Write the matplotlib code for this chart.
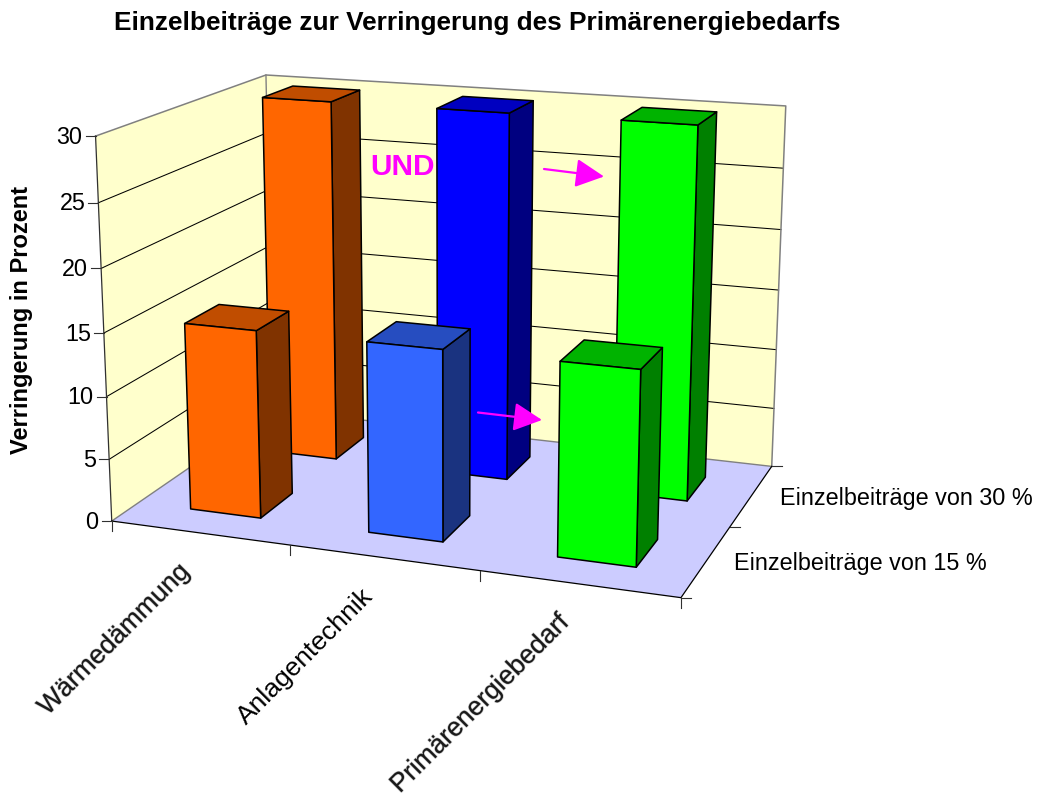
#!/usr/bin/env python3
import matplotlib
matplotlib.use('Agg')
import matplotlib.pyplot as plt
import matplotlib.patheffects as pe
from matplotlib.lines import Line2D
from matplotlib.patches import FancyArrowPatch
from mpl_toolkits.mplot3d import proj3d
from mpl_toolkits.mplot3d.art3d import Poly3DCollection

plt.rcParams['font.family'] = ['Liberation Sans', 'DejaVu Sans']

# data
categories = ['Wärmedämmung', 'Anlagentechnik', 'Primärenergiebedarf']
series_labels = ['Einzelbeiträge von 15 %', 'Einzelbeiträge von 30 %']
values_15 = [15, 15, 15]
values_30 = [30, 30, 30]
z_ticks = [0, 5, 10, 15, 20, 25, 30]

# (front, side, top) per category
colors_15 = [('#FF6600', '#803300', '#C04D00'),
             ('#3366FF', '#1A3380', '#264DC0'),
             ('#00FF00', '#008000', '#00B300')]
colors_30 = [('#FF6600', '#803300', '#C04D00'),
             ('#0000FF', '#000080', '#0000C0'),
             ('#00FF00', '#008000', '#00B300')]

W, H = 1038, 796
BAR_W = 0.4   # width along the categories
BAR_D = 0.4   # depth along the series

fig = plt.figure(figsize=(W / 100, H / 100), dpi=100)

# camera fitted to the reference
S, cx, cy = 770.46, 442.76, 321.19
ax = fig.add_axes([(cx - S / 2) / W, 1 - (cy + S / 2) / H, S / W, S / H],
                  projection='3d', computed_zorder=False)
ax.set_box_aspect((1, 0.6671, 0.6678))
ax.view_init(15.0946, -70.0401)
ax.set_proj_type('persp', focal_length=0.5394)
ax.set_axis_off()

n_cat = len(categories)
n_ser = len(series_labels)
z_max = z_ticks[-1]
ax.set_xlim(0, n_cat)
ax.set_ylim(0, n_ser)
ax.set_zlim(0, z_max)


def screen(x, y, z):
    """Data position -> pixels, origin bottom left of the figure"""
    xs, ys, _ = proj3d.proj_transform(x, y, z, ax.get_proj())
    return ax.transData.transform((xs, ys))


def px_line(p, q, **kw):
    fig.add_artist(Line2D([p[0] / W, q[0] / W], [p[1] / H, q[1] / H],
                          transform=fig.transFigure, **kw))


# walls and floor
left_wall = [(0, 0, 0), (0, n_ser, 0), (0, n_ser, z_max), (0, 0, z_max)]
back_wall = [(0, n_ser, 0), (n_cat, n_ser, 0), (n_cat, n_ser, z_max), (0, n_ser, z_max)]
floor = [(0, 0, 0), (n_cat, 0, 0), (n_cat, n_ser, 0), (0, n_ser, 0)]
ax.add_collection3d(Poly3DCollection([left_wall, back_wall], facecolors='#FFFFCC',
                                     edgecolors='none', zorder=1), autolim=False)
ax.add_collection3d(Poly3DCollection([floor], facecolors='#CCCCFF',
                                     edgecolors='none', zorder=1), autolim=False)

# gridlines on the walls
for z in z_ticks[1:-1]:
    ax.plot([0, 0, n_cat], [0, n_ser, n_ser], [z, z, z], color='black', lw=0.75, zorder=2)
ax.plot([0, 0, n_cat, n_cat], [0, n_ser, n_ser, n_ser], [z_max, z_max, z_max, 0],
        color='#808080', lw=1.1, zorder=2)
ax.plot([0, 0], [n_ser, n_ser], [0, z_max], color='#808080', lw=1.0, zorder=2)
ax.plot([0, 0, n_cat], [0, n_ser, n_ser], [0, 0, 0], color='#808080', lw=1.0, zorder=2)
ax.plot([0, 0], [0, 0], [0, z_max], color='#303030', lw=0.9, zorder=2)
ax.plot([0, n_cat, n_cat], [0, 0, n_ser], [0, 0, 0], color='black', lw=0.9, zorder=2)


def add_bar(i_cat, i_ser, value, cols, zorder):
    x0 = i_cat + (1 - BAR_W) / 2
    x1 = x0 + BAR_W
    y0 = i_ser + (1 - BAR_D) / 2
    y1 = y0 + BAR_D
    front = [(x0, y0, 0), (x1, y0, 0), (x1, y0, value), (x0, y0, value)]
    side = [(x1, y0, 0), (x1, y1, 0), (x1, y1, value), (x1, y0, value)]
    top = [(x0, y0, value), (x1, y0, value), (x1, y1, value), (x0, y1, value)]
    ax.add_collection3d(Poly3DCollection([front, side, top], facecolors=list(cols),
                                         edgecolors='black', linewidths=1.1,
                                         zorder=zorder), autolim=False)


# back row first
for i, (v, c) in enumerate(zip(values_30, colors_30)):
    add_bar(i, 1, v, c, 3 + i)
for i, (v, c) in enumerate(zip(values_15, colors_15)):
    add_bar(i, 0, v, c, 6 + i)

# value axis
for z in z_ticks:
    p = screen(0, 0, z)
    px_line(p, (p[0] - 10, p[1]), color='#303030', lw=0.8)
    fig.text((p[0] - 13) / W, (p[1] - 1) / H, str(z), ha='right', va='center', fontsize=16.8)

# category axis
for i in range(n_cat + 1):
    p = screen(i, 0, 0)
    px_line(p, (p[0], p[1] - 10), color='#303030', lw=0.8)
soft = [pe.withStroke(linewidth=1.0, foreground='#808080', alpha=0.45)]
for i, name in enumerate(categories):
    p = screen(i + 0.5, 0, 0)
    t = fig.text((p[0] - 14) / W, (p[1] - 35) / H, name, rotation=45, rotation_mode='anchor',
                 ha='right', va='center', fontsize=19, color='#1a1a1a' if i != 1 else 'black')
    if i != 1:
        t.set_path_effects(soft)

# series axis
for i in range(n_ser + 1):
    p = screen(n_cat, i, 0)
    px_line(p, (p[0] + 10, p[1]), color='#303030', lw=0.8)
for i, name in enumerate(series_labels):
    p = screen(n_cat, i + 0.5, 0)
    fig.text((p[0] + 28) / W, (p[1] - 3) / H, name, ha='left', va='center', fontsize=16.8)

# titles
fig.text(477.5 / W, 1 - 23 / H, 'Einzelbeiträge zur Verringerung des Primärenergiebedarfs',
         ha='center', va='center', fontsize=18.95, fontweight='bold')
fig.text(22 / W, 1 - 320 / H, 'Verringerung in Prozent', rotation=90,
         ha='center', va='center', fontsize=17, fontweight='bold')

# annotations
fig.text(403 / W, 1 - 167 / H, 'UND', ha='center', va='center', fontsize=21.4,
         fontweight='bold', color='#FF00FF')
for start, tip in [((544, 169), (604, 176.5)), ((478, 412.5), (542, 420))]:
    fig.add_artist(FancyArrowPatch((start[0] / W, 1 - start[1] / H), (tip[0] / W, 1 - tip[1] / H),
                                   transform=fig.transFigure, shrinkA=0, shrinkB=0,
                                   arrowstyle='-|>,head_length=17.5,head_width=8.8',
                                   mutation_scale=1, lw=1.6, color='#FF00FF'))

fig.savefig('out.png', dpi=100)
